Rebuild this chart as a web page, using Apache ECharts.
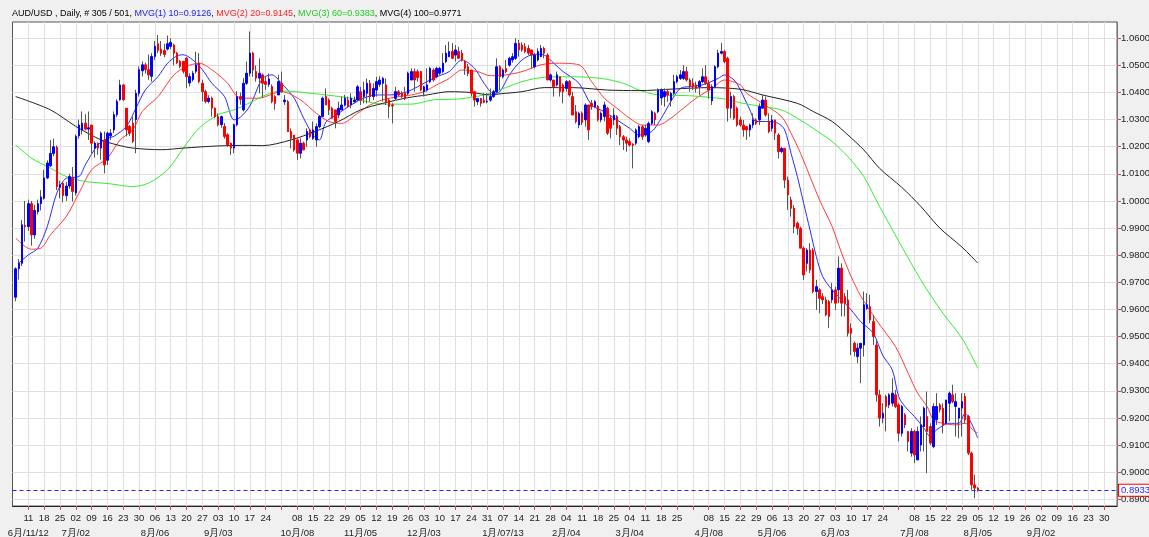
<!DOCTYPE html>
<html>
<head>
<meta charset="utf-8">
<script src="https://cdn.jsdelivr.net/npm/echarts@6/dist/echarts.min.js"></script>
<style>
  html, body { margin: 0; padding: 0; background: #f0f0f0; }
  #chart { width: 1149px; height: 537px; }
</style>
</head>
<body>
<div id="chart"></div>
<script>
// AUD/USD daily candles, [open, close, low, high], one array per month
var jun12 = [[0.9645,0.9750,0.9630,0.9755],[0.9750,0.9770,0.9710,0.9785],[0.9770,0.9912,0.9760,0.9930],[0.9910,0.9905,0.9850,1.0000],[0.9905,0.9990,0.9890,1.0005],[0.9990,0.9875,0.9835,1.0000],[0.9875,0.9965,0.9860,0.9985],[0.9960,0.9990,0.9950,1.0005],[0.9990,1.0015,0.9965,1.0040],[1.0010,1.0085,1.0005,1.0115],[1.0085,1.0140,1.0080,1.0150],[1.0130,1.0175,1.0125,1.0225],[1.0175,1.0200,1.0165,1.0230],[1.0198,1.0053,1.0040,1.0205],[1.0050,1.0060,1.0010,1.0075],[1.0065,1.0020,0.9995,1.0070],[1.0020,1.0055,1.0000,1.0070],[1.0055,1.0090,1.0045,1.0100],[1.0085,1.0035,0.9998,1.0125]];
var jul12 = [[1.0030,1.0238,1.0020,1.0245],[1.0240,1.0280,1.0230,1.0300],[1.0262,1.0287,1.0245,1.0330],[1.0287,1.0265,1.0260,1.0320],[1.0265,1.0270,1.0225,1.0330],[1.0280,1.0213,1.0176,1.0280],[1.0195,1.0213,1.0160,1.0220],[1.0213,1.0195,1.0170,1.0215],[1.0195,1.0250,1.0152,1.0256],[1.0225,1.0133,1.0102,1.0256],[1.0150,1.0250,1.0133,1.0256],[1.0240,1.0250,1.0225,1.0265],[1.0262,1.0318,1.0250,1.0330],[1.0318,1.0367,1.0310,1.0375],[1.0373,1.0428,1.0370,1.0447],[1.0428,1.0373,1.0370,1.0430],[1.0342,1.0262,1.0238,1.0342],[1.0275,1.0250,1.0240,1.0280],[1.0287,1.0220,1.0213,1.0310],[1.0300,1.0397,1.0176,1.0410],[1.0397,1.0484,1.0385,1.0496],[1.0480,1.0502,1.0459,1.0515]];
var aug12 = [[1.0502,1.0484,1.0470,1.0510],[1.0484,1.0465,1.0447,1.0540],[1.0460,1.0533,1.0440,1.0545],[1.0533,1.0570,1.0520,1.0590],[1.0580,1.0555,1.0545,1.0612],[1.0560,1.0545,1.0535,1.0590],[1.0555,1.0540,1.0530,1.0580],[1.0560,1.0580,1.0555,1.0610],[1.0570,1.0585,1.0560,1.0600],[1.0575,1.0545,1.0500,1.0580],[1.0545,1.0510,1.0505,1.0550],[1.0515,1.0496,1.0490,1.0520],[1.0515,1.0478,1.0470,1.0515],[1.0527,1.0459,1.0416,1.0530],[1.0435,1.0459,1.0422,1.0470],[1.0447,1.0471,1.0440,1.0480],[1.0478,1.0502,1.0470,1.0550],[1.0508,1.0440,1.0434,1.0545],[1.0434,1.0403,1.0367,1.0447],[1.0403,1.0367,1.0360,1.0410],[1.0367,1.0379,1.0360,1.0390],[1.0379,1.0342,1.0311,1.0385],[1.0342,1.0311,1.0305,1.0345]];
var sep12 = [[1.0311,1.0281,1.0275,1.0323],[1.0281,1.0311,1.0270,1.0315],[1.0275,1.0238,1.0230,1.0287],[1.0244,1.0207,1.0200,1.0250],[1.0213,1.0195,1.0170,1.0215],[1.0195,1.0281,1.0176,1.0285],[1.0281,1.0385,1.0275,1.0405],[1.0385,1.0375,1.0355,1.0400],[1.0336,1.0434,1.0330,1.0453],[1.0434,1.0471,1.0428,1.0514],[1.0471,1.0545,1.0459,1.0625],[1.0545,1.0483,1.0458,1.0550],[1.0477,1.0453,1.0440,1.0500],[1.0453,1.0471,1.0397,1.0526],[1.0465,1.0434,1.0380,1.0470],[1.0440,1.0430,1.0410,1.0460],[1.0430,1.0450,1.0420,1.0470],[1.0422,1.0366,1.0360,1.0430],[1.0385,1.0360,1.0336,1.0390],[1.0391,1.0440,1.0391,1.0465]];
var oct12 = [[1.0434,1.0403,1.0400,1.0477],[1.0366,1.0372,1.0354,1.0391],[1.0366,1.0256,1.0256,1.0372],[1.0256,1.0231,1.0194,1.0268],[1.0243,1.0188,1.0182,1.0243],[1.0225,1.0176,1.0151,1.0231],[1.0176,1.0213,1.0157,1.0231],[1.0213,1.0188,1.0188,1.0219],[1.0225,1.0256,1.0200,1.0268],[1.0262,1.0237,1.0231,1.0262],[1.0231,1.0262,1.0225,1.0293],[1.0225,1.0274,1.0200,1.0286],[1.0274,1.0311,1.0268,1.0317],[1.0311,1.0379,1.0311,1.0385],[1.0385,1.0354,1.0354,1.0415],[1.0372,1.0336,1.0317,1.0379],[1.0342,1.0305,1.0305,1.0348],[1.0336,1.0293,1.0268,1.0336],[1.0317,1.0342,1.0305,1.0366],[1.0336,1.0354,1.0336,1.0385],[1.0354,1.0379,1.0348,1.0391],[1.0372,1.0348,1.0348,1.0385],[1.0354,1.0379,1.0342,1.0397]];
var nov12 = [[1.0366,1.0372,1.0360,1.0385],[1.0372,1.0421,1.0372,1.0428],[1.0403,1.0372,1.0354,1.0421],[1.0385,1.0409,1.0360,1.0440],[1.0397,1.0434,1.0360,1.0452],[1.0434,1.0385,1.0366,1.0446],[1.0385,1.0415,1.0372,1.0434],[1.0409,1.0440,1.0385,1.0458],[1.0430,1.0446,1.0420,1.0460],[1.0434,1.0452,1.0366,1.0458],[1.0428,1.0366,1.0354,1.0452],[1.0372,1.0348,1.0305,1.0378],[1.0354,1.0350,1.0286,1.0360],[1.0378,1.0403,1.0372,1.0421],[1.0403,1.0391,1.0385,1.0409],[1.0397,1.0385,1.0380,1.0405],[1.0397,1.0379,1.0372,1.0421],[1.0397,1.0471,1.0391,1.0477],[1.0446,1.0477,1.0446,1.0489],[1.0477,1.0446,1.0403,1.0489],[1.0477,1.0455,1.0440,1.0485],[1.0477,1.0409,1.0405,1.0480]];
var dec12 = [[1.0403,1.0421,1.0385,1.0425],[1.0409,1.0428,1.0403,1.0489],[1.0440,1.0489,1.0434,1.0495],[1.0483,1.0446,1.0440,1.0489],[1.0458,1.0489,1.0452,1.0495],[1.0471,1.0489,1.0465,1.0495],[1.0477,1.0508,1.0471,1.0545],[1.0514,1.0545,1.0508,1.0575],[1.0532,1.0551,1.0532,1.0588],[1.0551,1.0526,1.0526,1.0582],[1.0538,1.0557,1.0514,1.0575],[1.0551,1.0526,1.0526,1.0569],[1.0545,1.0520,1.0514,1.0557],[1.0514,1.0489,1.0465,1.0520],[1.0495,1.0470,1.0460,1.0505],[1.0483,1.0397,1.0385,1.0483],[1.0403,1.0372,1.0348,1.0403],[1.0366,1.0378,1.0354,1.0380],[1.0378,1.0360,1.0348,1.0380],[1.0372,1.0364,1.0360,1.0397],[1.0366,1.0368,1.0360,1.0397]];
var jan13 = [[1.0372,1.0385,1.0366,1.0415],[1.0385,1.0403,1.0380,1.0410],[1.0403,1.0495,1.0397,1.0526],[1.0495,1.0458,1.0409,1.0501],[1.0458,1.0483,1.0452,1.0489],[1.0489,1.0477,1.0471,1.0520],[1.0501,1.0526,1.0495,1.0532],[1.0520,1.0532,1.0510,1.0545],[1.0526,1.0581,1.0520,1.0600],[1.0581,1.0557,1.0532,1.0594],[1.0575,1.0557,1.0550,1.0585],[1.0569,1.0551,1.0545,1.0582],[1.0563,1.0545,1.0538,1.0575],[1.0557,1.0538,1.0489,1.0557],[1.0495,1.0538,1.0489,1.0545],[1.0520,1.0551,1.0514,1.0563],[1.0532,1.0563,1.0532,1.0575],[1.0563,1.0545,1.0526,1.0569],[1.0538,1.0446,1.0446,1.0545],[1.0446,1.0465,1.0440,1.0470],[1.0446,1.0422,1.0385,1.0446],[1.0428,1.0465,1.0422,1.0477],[1.0458,1.0403,1.0385,1.0458]];
var feb13 = [[1.0428,1.0403,1.0360,1.0434],[1.0415,1.0440,1.0403,1.0446],[1.0440,1.0391,1.0385,1.0446],[1.0385,1.0317,1.0317,1.0403],[1.0329,1.0293,1.0286,1.0354],[1.0280,1.0323,1.0268,1.0329],[1.0323,1.0290,1.0280,1.0330],[1.0299,1.0354,1.0274,1.0360],[1.0354,1.0262,1.0225,1.0354],[1.0360,1.0348,1.0336,1.0372],[1.0348,1.0366,1.0342,1.0372],[1.0348,1.0299,1.0293,1.0354],[1.0299,1.0323,1.0290,1.0330],[1.0311,1.0354,1.0293,1.0366],[1.0342,1.0250,1.0243,1.0348],[1.0305,1.0268,1.0231,1.0317],[1.0299,1.0317,1.0280,1.0342],[1.0311,1.0268,1.0243,1.0317],[1.0274,1.0237,1.0206,1.0280],[1.0237,1.0225,1.0188,1.0243]];
var mar13 = [[1.0225,1.0213,1.0182,1.0237],[1.0219,1.0206,1.0200,1.0231],[1.0210,1.0205,1.0120,1.0213],[1.0213,1.0262,1.0206,1.0268],[1.0237,1.0274,1.0231,1.0280],[1.0274,1.0237,1.0225,1.0280],[1.0243,1.0268,1.0237,1.0280],[1.0219,1.0286,1.0213,1.0293],[1.0286,1.0329,1.0280,1.0335],[1.0323,1.0299,1.0280,1.0329],[1.0329,1.0409,1.0323,1.0415],[1.0380,1.0409,1.0354,1.0415],[1.0385,1.0403,1.0348,1.0415],[1.0403,1.0391,1.0366,1.0409],[1.0372,1.0397,1.0348,1.0403],[1.0397,1.0440,1.0391,1.0465],[1.0440,1.0458,1.0434,1.0465],[1.0452,1.0465,1.0446,1.0483],[1.0452,1.0477,1.0446,1.0501],[1.0477,1.0446,1.0440,1.0495],[1.0446,1.0422,1.0403,1.0452]];
var apr13 = [[1.0434,1.0421,1.0409,1.0452],[1.0428,1.0415,1.0400,1.0440],[1.0421,1.0440,1.0391,1.0446],[1.0440,1.0458,1.0434,1.0489],[1.0458,1.0434,1.0428,1.0501],[1.0434,1.0409,1.0378,1.0446],[1.0370,1.0421,1.0354,1.0430],[1.0421,1.0495,1.0415,1.0501],[1.0495,1.0545,1.0489,1.0557],[1.0545,1.0551,1.0540,1.0583],[1.0551,1.0514,1.0508,1.0557],[1.0526,1.0342,1.0293,1.0532],[1.0342,1.0385,1.0305,1.0403],[1.0385,1.0305,1.0299,1.0391],[1.0342,1.0280,1.0274,1.0348],[1.0299,1.0280,1.0274,1.0311],[1.0280,1.0262,1.0237,1.0299],[1.0274,1.0262,1.0225,1.0274],[1.0262,1.0280,1.0237,1.0286],[1.0280,1.0299,1.0268,1.0323],[1.0299,1.0286,1.0280,1.0305],[1.0299,1.0348,1.0280,1.0360]];
var may13 = [[1.0342,1.0372,1.0342,1.0391],[1.0372,1.0317,1.0311,1.0385],[1.0292,1.0256,1.0250,1.0323],[1.0268,1.0299,1.0256,1.0317],[1.0299,1.0250,1.0225,1.0299],[1.0243,1.0182,1.0157,1.0250],[1.0182,1.0194,1.0176,1.0200],[1.0194,1.0077,1.0047,1.0194],[1.0077,1.0022,0.9967,1.0090],[1.0004,0.9973,0.9942,1.0016],[0.9973,0.9905,0.9881,0.9985],[0.9918,0.9899,0.9875,0.9924],[0.9899,0.9826,0.9826,0.9905],[0.9826,0.9727,0.9709,0.9832],[0.9770,0.9819,0.9740,0.9826],[0.9819,0.9746,0.9734,0.9844],[0.9819,0.9666,0.9660,0.9826],[0.9666,0.9684,0.9598,0.9709],[0.9672,0.9641,0.9586,0.9678],[0.9647,0.9635,0.9620,0.9660],[0.9635,0.9580,0.9574,0.9647],[0.9629,0.9574,0.9531,0.9635],[0.9635,0.9672,0.9623,0.9697]];
var jun13 = [[0.9672,0.9623,0.9598,0.9684],[0.9672,0.9752,0.9623,0.9795],[0.9752,0.9623,0.9574,0.9770],[0.9647,0.9623,0.9574,0.9660],[0.9635,0.9512,0.9500,0.9672],[0.9530,0.9512,0.9432,0.9549],[0.9475,0.9445,0.9426,0.9481],[0.9426,0.9457,0.9402,0.9475],[0.9457,0.9475,0.9328,0.9475],[0.9469,0.9617,0.9426,0.9666],[0.9604,0.9617,0.9598,0.9660],[0.9610,0.9561,0.9549,0.9654],[0.9555,0.9500,0.9469,0.9580],[0.9469,0.9285,0.9260,0.9490],[0.9285,0.9199,0.9168,0.9303],[0.9199,0.9217,0.9180,0.9254],[0.9279,0.9242,0.9150,0.9285],[0.9248,0.9285,0.9236,0.9291],[0.9254,0.9291,0.9242,0.9346],[0.9285,0.9242,0.9236,0.9303]];
var jul13 = [[0.9248,0.9143,0.9113,0.9254],[0.9143,0.9242,0.9131,0.9248],[0.9211,0.9174,0.9162,0.9217],[0.9150,0.9113,0.9076,0.9150],[0.9070,0.9150,0.9057,0.9162],[0.9150,0.9063,0.9033,0.9156],[0.9045,0.9150,0.9045,0.9168],[0.9100,0.9174,0.9076,0.9205],[0.9168,0.9236,0.9076,0.9242],[0.9205,0.9150,0.8996,0.9297],[0.9168,0.9107,0.9100,0.9180],[0.9094,0.9242,0.9088,0.9254],[0.9193,0.9242,0.9174,0.9291],[0.9248,0.9230,0.9220,0.9254],[0.9236,0.9174,0.9143,0.9254],[0.9180,0.9266,0.9174,0.9266],[0.9254,0.9291,0.9187,0.9297],[0.9285,0.9260,0.9254,0.9322],[0.9242,0.9260,0.9131,0.9291],[0.9199,0.9236,0.9125,0.9236],[0.9236,0.9260,0.9131,0.9291],[0.9279,0.9193,0.9180,0.9291],[0.9205,0.9070,0.9063,0.9211]];
var aug13 = [[0.9070,0.8953,0.8935,0.9076],[0.8953,0.8941,0.8904,0.8990],[0.8941,0.8933,0.8928,0.8945]];

// moving averages: [bar index, value]
var ma10 = [[1,0.9771],[4,0.9801],[7,0.9826],[10,0.9906],[13,1.0029],[16,1.0084],[20,1.0090],[22,1.0133],[26,1.0207],[29,1.0231],[31,1.0238],[35,1.0275],[38,1.0342],[41,1.0410],[45,1.0459],[48,1.0508],[51,1.0535],[53,1.0539],[56,1.0520],[59,1.0484],[62,1.0434],[66,1.0385],[69,1.0299],[71,1.0309],[74,1.0350],[78,1.0452],[81,1.0465],[84,1.0434],[88,1.0379],[91,1.0305],[94,1.0243],[96,1.0225],[98,1.0290],[102,1.0323],[106,1.0354],[110,1.0379],[114,1.0391],[118,1.0391],[122,1.0397],[125,1.0409],[129,1.0434],[133,1.0458],[137,1.0477],[141,1.0520],[145,1.0489],[148,1.0434],[151,1.0397],[153,1.0403],[156,1.0465],[160,1.0520],[164,1.0541],[167,1.0538],[170,1.0508],[173,1.0477],[178,1.0434],[182,1.0354],[186,1.0329],[190,1.0299],[194,1.0268],[197,1.0243],[201,1.0256],[204,1.0305],[207,1.0366],[210,1.0415],[213,1.0422],[217,1.0428],[222,1.0452],[224,1.0465],[227,1.0446],[229,1.0409],[232,1.0336],[234,1.0293],[238,1.0293],[241,1.0286],[243,1.0262],[245,1.0176],[247,1.0090],[249,0.9991],[251,0.9893],[253,0.9795],[255,0.9721],[258,0.9672],[261,0.9635],[264,0.9598],[267,0.9555],[271,0.9512],[274,0.9430],[277,0.9377],[279,0.9279],[281,0.9242],[284,0.9205],[287,0.9162],[289,0.9131],[291,0.9156],[295,0.9180],[298,0.9180],[300,0.9217],[302,0.9180],[304,0.9126]];
var ma20 = [[0,0.9863],[3,0.9832],[5,0.9822],[8,0.9826],[11,0.9875],[16,0.9943],[20,1.0029],[24,1.0115],[29,1.0158],[33,1.0225],[37,1.0262],[40,1.0330],[45,1.0385],[50,1.0465],[54,1.0496],[58,1.0508],[62,1.0484],[67,1.0434],[70,1.0385],[73,1.0379],[77,1.0379],[79,1.0385],[84,1.0403],[90,1.0373],[95,1.0323],[99,1.0293],[103,1.0286],[108,1.0323],[112,1.0354],[116,1.0373],[121,1.0385],[125,1.0391],[129,1.0403],[133,1.0428],[137,1.0452],[141,1.0483],[146,1.0477],[150,1.0462],[155,1.0465],[160,1.0477],[166,1.0502],[171,1.0508],[178,1.0502],[182,1.0440],[186,1.0379],[190,1.0342],[194,1.0305],[198,1.0280],[203,1.0280],[207,1.0305],[211,1.0342],[215,1.0379],[220,1.0415],[224,1.0446],[229,1.0428],[231,1.0397],[236,1.0360],[242,1.0311],[245,1.0250],[248,1.0176],[251,1.0090],[254,1.0004],[258,0.9905],[261,0.9807],[264,0.9721],[267,0.9650],[272,0.9560],[278,0.9463],[282,0.9365],[285,0.9291],[288,0.9242],[290,0.9193],[293,0.9180],[297,0.9174],[300,0.9180],[303,0.9150],[304,0.9145]];
var ma60 = [[0,1.0207],[5,1.0158],[11,1.0121],[16,1.0090],[22,1.0072],[30,1.0063],[37,1.0053],[42,1.0066],[48,1.0115],[53,1.0195],[58,1.0269],[64,1.0318],[69,1.0336],[74,1.0362],[79,1.0391],[84,1.0406],[95,1.0395],[106,1.0379],[116,1.0357],[125,1.0357],[132,1.0373],[140,1.0376],[148,1.0391],[153,1.0410],[160,1.0440],[167,1.0456],[176,1.0458],[185,1.0452],[192,1.0434],[197,1.0409],[203,1.0391],[213,1.0388],[224,1.0376],[229,1.0362],[236,1.0348],[242,1.0336],[247,1.0305],[252,1.0268],[258,1.0219],[263,1.0163],[268,1.0090],[273,0.9979],[286,0.9709],[293,0.9586],[299,0.9494],[304,0.9383]];
var ma100 = [[0,1.0385],[11,1.0336],[19,1.0275],[27,1.0225],[32,1.0207],[37,1.0195],[46,1.0189],[53,1.0195],[64,1.0203],[74,1.0205],[78,1.0204],[87,1.0225],[95,1.0258],[102,1.0293],[109,1.0336],[116,1.0360],[124,1.0381],[130,1.0391],[137,1.0403],[144,1.0400],[150,1.0391],[153,1.0395],[160,1.0403],[167,1.0418],[176,1.0418],[187,1.0409],[197,1.0407],[208,1.0413],[219,1.0418],[229,1.0412],[236,1.0391],[247,1.0360],[252,1.0330],[258,1.0293],[263,1.0243],[268,1.0188],[273,1.0120],[280,1.0050],[286,0.9980],[292,0.9900],[299,0.9830],[304,0.9771]];

var maNames = ['MVG(1) 10', 'MVG(2) 20', 'MVG(3) 60', 'MVG(4) 100'];
var maLast = [0.9126, 0.9145, 0.9383, 0.9771];
var maColors = ['#2a2aff', '#ff3a3a', '#33ee33', '#222222'];
var maTextColors = ['#2020ee', '#ff2020', '#22cc22', '#000000'];
var lastPrice = 0.8933;
var priceTicks = [0.89,0.90,0.91,0.92,0.93,0.94,0.95,0.96,0.97,0.98,0.99,1.00,1.01,1.02,1.03,1.04,1.05,1.06];

// axis: every weekday from 2012-06-04 (empty slot) to 2013-10-04
var firstDay = '2012-06-04', dayCount = 350;
var monthLabels = {
  '2012-06-11': '6月/11/12', '2012-07-02': '7月/02', '2012-08-06': '8月/06', '2012-09-03': '9月/03',
  '2012-10-08': '10月/08', '2012-11-05': '11月/05', '2012-12-03': '12月/03', '2013-01-07': '1月/07/13',
  '2013-02-04': '2月/04', '2013-03-04': '3月/04', '2013-04-08': '4月/08', '2013-05-06': '5月/06',
  '2013-06-03': '6月/03', '2013-07-08': '7月/08', '2013-08-05': '8月/05', '2013-09-02': '9月/02'
};
var noDayLabel = ['2012-10-01', '2013-04-01', '2013-07-01'];

var days = [];
var d = new Date(firstDay + 'T00:00:00Z');
while (days.length < dayCount) {
  var wd = d.getUTCDay();
  if (wd !== 0 && wd !== 6) days.push(d.toISOString().slice(0, 10));
  d.setUTCDate(d.getUTCDate() + 1);
}
function isMonday(v) { return new Date(v + 'T00:00:00Z').getUTCDay() === 1; }
function weekTick(idx, v) { return idx > 0 && isMonday(v); }

var candles = [].concat(jun12, jul12, aug12, sep12, oct12, nov12, dec12, jan13, feb13, mar13, apr13, may13, jun13, jul13, aug13);
var full = candles.map(function (c, i) { return [i + 1, c[0], c[1], c[2], c[3]]; });
var bodies = candles.map(function (c, i) { return [i + 1, c[0], c[1], Math.min(c[0], c[1]), Math.max(c[0], c[1])]; });
function maLine(pts) { return pts.map(function (p) { return [p[0] + 1, p[1]]; }); }

var font = '"Liberation Sans", Arial, sans-serif';
var chart = echarts.init(document.getElementById('chart'));

var titleRich = { k: { color: '#000' } };
var titleText = '{k|' + 'AUD/USD , Daily, # ' + candles.length + ' / 501, }';
['b', 'r', 'g', 'n'].forEach(function (key, j) {
  titleRich[key] = { color: maTextColors[j] };
  titleText += '{' + key + '|' + maNames[j] + '=' + maLast[j].toFixed(4) + '}' + (j < 3 ? '{k|, }' : '');
});
Object.keys(titleRich).forEach(function (k) {
  titleRich[k].fontSize = 9; titleRich[k].fontFamily = font; titleRich[k].fontWeight = 'normal';
});

chart.setOption({
  animation: false,
  backgroundColor: '#f0f0f0',
  title: { left: 12, top: 9, padding: 0, text: titleText, textStyle: { rich: titleRich, fontSize: 9, fontWeight: 'normal' } },
  grid: { left: 12.5, right: 32, top: 22, bottom: 31, outerBoundsMode: 'none', containLabel: false,
          show: true, backgroundColor: '#ffffff', borderColor: '#555', borderWidth: 1 },
  xAxis: [{
    type: 'category', data: days, boundaryGap: false,
    axisLine: { lineStyle: { color: '#222', width: 1 } },
    axisTick: { interval: weekTick, length: 4, lineStyle: { color: '#f03c3c' } },
    splitLine: { show: true, interval: weekTick, lineStyle: { color: '#e0e0e0', width: 1 } },
    axisLabel: {
      interval: function (idx, v) { return weekTick(idx, v) && noDayLabel.indexOf(v) < 0; },
      formatter: function (v) { return v.slice(8, 10); },
      color: '#222', fontSize: 9.5, fontFamily: font, margin: 7
    }
  }, {
    type: 'category', data: days, boundaryGap: false, position: 'bottom', offset: 15,
    axisLine: { show: false }, axisTick: { show: false }, splitLine: { show: false },
    axisLabel: {
      interval: function (idx, v) { return monthLabels[v] !== undefined; },
      formatter: function (v) { return monthLabels[v]; },
      color: '#222', fontSize: 9.5, fontFamily: font, margin: 7
    }
  }],
  yAxis: {
    type: 'value', position: 'right', min: 0.8875, max: 1.066, scale: true,
    axisLine: { show: true, lineStyle: { color: '#777', width: 1 } },
    axisTick: { show: true, length: 4, customValues: priceTicks, lineStyle: { color: '#f03c3c' } },
    splitLine: { show: true, lineStyle: { color: '#e0e0e0', width: 1 } },
    axisLabel: {
      customValues: priceTicks, margin: 4,
      formatter: function (v) { return v.toFixed(4); },
      color: '#222', fontSize: 9.5, fontFamily: font
    }
  },
  series: [{
    type: 'candlestick', name: 'wick', data: full, encode: { x: 0, y: [1, 2, 3, 4] },
    barWidth: 1,
    itemStyle: { color: '#555', color0: '#555', borderColor: '#555', borderColor0: '#555', borderColorDoji: '#555', borderWidth: 1 },
    markLine: {
      silent: true, symbol: ['none', 'none'], precision: 4,
      lineStyle: { color: '#2020ff', type: [4, 3], width: 1 },
      label: { position: 'end', distance: 2, formatter: lastPrice.toFixed(4), color: '#2020ff', fontSize: 9.5, fontFamily: font,
               borderColor: '#ff0000', borderWidth: 1, backgroundColor: '#fff', padding: [1, 1, 0, 2] },
      data: [{ yAxis: lastPrice }]
    }
  }, {
    type: 'candlestick', name: 'body', data: bodies, encode: { x: 0, y: [1, 2, 3, 4] },
    barWidth: 2,
    itemStyle: { color: '#0000ff', color0: '#ff0000', borderColor: '#0000ff', borderColor0: '#ff0000', borderColorDoji: '#555', borderWidth: 1 }
  }].concat([ma10, ma20, ma60, ma100].map(function (pts, j) {
    return { type: 'line', name: maNames[j], data: maLine(pts), showSymbol: false, smooth: 0.3,
             lineStyle: { color: maColors[j], width: 1 }, z: 1 };
  }))
});
</script>
</body>
</html>
